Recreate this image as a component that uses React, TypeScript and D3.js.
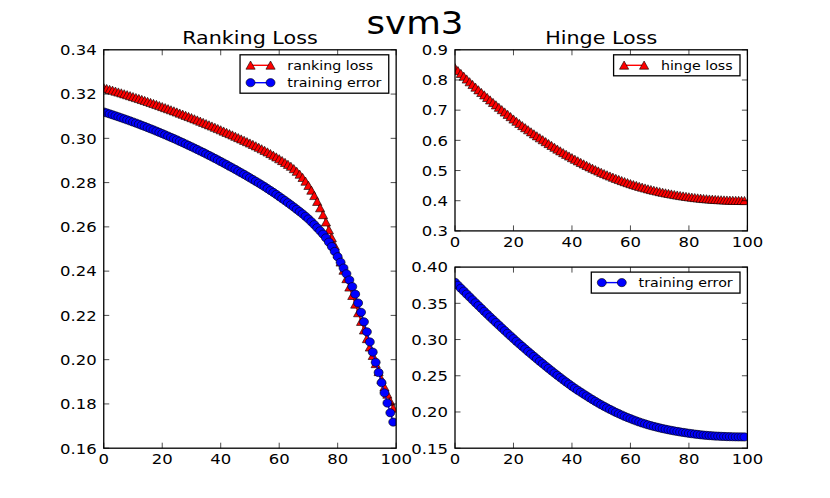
import React, { useRef, useEffect } from 'react';
import * as d3 from 'd3';

// ranking loss panel (left)
const rankingLoss = [
    0.32280, 0.32242, 0.32204, 0.32165, 0.32125, 0.32085, 0.32045, 0.32004, 0.31962, 0.31920,
    0.31878, 0.31835, 0.31792, 0.31748, 0.31703, 0.31659, 0.31613, 0.31567, 0.31521, 0.31474,
    0.31427, 0.31379, 0.31331, 0.31282, 0.31233, 0.31183, 0.31133, 0.31082, 0.31031, 0.30979,
    0.30927, 0.30874, 0.30821, 0.30767, 0.30713, 0.30658, 0.30603, 0.30548, 0.30492, 0.30435,
    0.30378, 0.30320, 0.30262, 0.30204, 0.30145, 0.30085, 0.30025, 0.29964, 0.29903, 0.29842,
    0.29780, 0.29718, 0.29654, 0.29588, 0.29520, 0.29450, 0.29378, 0.29304, 0.29228, 0.29150,
    0.29070, 0.28988, 0.28904, 0.28818, 0.28730, 0.28622, 0.28504, 0.28373, 0.28225, 0.28057,
    0.27866, 0.27650, 0.27409, 0.27144, 0.26856, 0.26546, 0.26215, 0.25864, 0.25504, 0.25144,
    0.24774, 0.24404, 0.24034, 0.23654, 0.23274, 0.22894, 0.22504, 0.22114, 0.21724, 0.21334,
    0.20944, 0.20564, 0.20184, 0.19814, 0.19454, 0.19104, 0.18764, 0.18434, 0.18114, 0.17804
];

const rankTrainingError = [
    0.31190, 0.31148, 0.31105, 0.31062, 0.31018, 0.30973, 0.30927, 0.30881, 0.30834, 0.30786,
    0.30738, 0.30689, 0.30639, 0.30588, 0.30537, 0.30485, 0.30432, 0.30379, 0.30325, 0.30270,
    0.30214, 0.30158, 0.30101, 0.30043, 0.29985, 0.29926, 0.29866, 0.29805, 0.29744, 0.29682,
    0.29619, 0.29556, 0.29492, 0.29427, 0.29362, 0.29295, 0.29228, 0.29161, 0.29092, 0.29023,
    0.28953, 0.28883, 0.28811, 0.28739, 0.28667, 0.28593, 0.28519, 0.28445, 0.28369, 0.28292,
    0.28215, 0.28138, 0.28059, 0.27979, 0.27897, 0.27814, 0.27729, 0.27642, 0.27554, 0.27464,
    0.27373, 0.27280, 0.27186, 0.27090, 0.26992, 0.26893, 0.26792, 0.26690, 0.26585, 0.26475,
    0.26357, 0.26232, 0.26100, 0.25960, 0.25820, 0.25670, 0.25500, 0.25310, 0.25110, 0.24890,
    0.24650, 0.24400, 0.24140, 0.23880, 0.23600, 0.23300, 0.22960, 0.22560, 0.22140, 0.21710,
    0.21260, 0.20800, 0.20340, 0.19880, 0.19420, 0.18960, 0.18500, 0.18040, 0.17600, 0.17180
];

// hinge loss panel (top right)
const hingeLoss = [
    0.8400, 0.8305, 0.8211, 0.8118, 0.8026, 0.7935, 0.7845, 0.7756, 0.7668, 0.7581,
    0.7500, 0.7416, 0.7333, 0.7251, 0.7170, 0.7090, 0.7011, 0.6933, 0.6856, 0.6780,
    0.6700, 0.6627, 0.6555, 0.6484, 0.6414, 0.6345, 0.6277, 0.6210, 0.6144, 0.6079,
    0.6015, 0.5951, 0.5888, 0.5826, 0.5765, 0.5705, 0.5646, 0.5588, 0.5531, 0.5475,
    0.5420, 0.5367, 0.5315, 0.5264, 0.5214, 0.5165, 0.5117, 0.5070, 0.5024, 0.4979,
    0.4935, 0.4893, 0.4852, 0.4812, 0.4773, 0.4735, 0.4698, 0.4662, 0.4627, 0.4593,
    0.4560, 0.4529, 0.4499, 0.4470, 0.4442, 0.4415, 0.4389, 0.4364, 0.4340, 0.4317,
    0.4295, 0.4274, 0.4254, 0.4235, 0.4217, 0.4199, 0.4182, 0.4166, 0.4151, 0.4137,
    0.4123, 0.4110, 0.4098, 0.4087, 0.4077, 0.4067, 0.4058, 0.4050, 0.4043, 0.4036,
    0.4030, 0.4025, 0.4020, 0.4016, 0.4012, 0.4009, 0.4006, 0.4004, 0.4002, 0.4000
];

// training error panel (bottom right)
const trainingError = [
    0.3790, 0.3749, 0.3708, 0.3668, 0.3628, 0.3588, 0.3548, 0.3508, 0.3469, 0.3430,
    0.3390, 0.3351, 0.3312, 0.3274, 0.3236, 0.3198, 0.3160, 0.3123, 0.3086, 0.3049,
    0.3012, 0.2976, 0.2940, 0.2905, 0.2870, 0.2835, 0.2801, 0.2767, 0.2733, 0.2700,
    0.2667, 0.2634, 0.2601, 0.2569, 0.2537, 0.2506, 0.2475, 0.2444, 0.2414, 0.2384,
    0.2355, 0.2327, 0.2300, 0.2273, 0.2247, 0.2221, 0.2196, 0.2171, 0.2147, 0.2123,
    0.2100, 0.2078, 0.2056, 0.2035, 0.2015, 0.1995, 0.1976, 0.1958, 0.1940, 0.1923,
    0.1907, 0.1891, 0.1876, 0.1862, 0.1848, 0.1835, 0.1823, 0.1811, 0.1800, 0.1790,
    0.1780, 0.1771, 0.1762, 0.1754, 0.1746, 0.1738, 0.1731, 0.1724, 0.1718, 0.1712,
    0.1706, 0.1700, 0.1695, 0.1690, 0.1685, 0.1681, 0.1677, 0.1674, 0.1671, 0.1668,
    0.1666, 0.1664, 0.1662, 0.1660, 0.1659, 0.1658, 0.1657, 0.1656, 0.1656, 0.1655
];

const xTicks = [0, 20, 40, 60, 80, 100];
const rankTicks = [0.16, 0.18, 0.20, 0.22, 0.24, 0.26, 0.28, 0.30, 0.32, 0.34];
const hingeTicks = [0.3, 0.4, 0.5, 0.6, 0.7, 0.8, 0.9];
const errorTicks = [0.15, 0.20, 0.25, 0.30, 0.35, 0.40];

const FONT = '"DejaVu Sans", sans-serif';
const SX = 1.13; // text looks horizontally stretched in the original

interface Series {
    label: string;
    values: number[];
    color: string;
    marker: 'triangle' | 'circle';
}

interface Panel {
    id: string;
    left: number;
    top: number;
    width: number;
    height: number;
    yDomain: [number, number];
    yTicks: number[];
    yFormat: string;
    title: string | null;
    series: Series[];
}

const panels: Panel[] = [
    {
        id: 'rank', left: 103.75, top: 49.8, width: 292.4, height: 398.4,
        yDomain: [0.16, 0.34], yTicks: rankTicks, yFormat: '.2f', title: 'Ranking Loss',
        series: [
            { label: 'ranking loss', values: rankingLoss, color: '#ff0000', marker: 'triangle' },
            { label: 'training error', values: rankTrainingError, color: '#0000ff', marker: 'circle' }
        ]
    },
    {
        id: 'hinge', left: 455, top: 49.8, width: 292.4, height: 181.1,
        yDomain: [0.3, 0.9], yTicks: hingeTicks, yFormat: '.1f', title: 'Hinge Loss',
        series: [
            { label: 'hinge loss', values: hingeLoss, color: '#ff0000', marker: 'triangle' }
        ]
    },
    {
        id: 'err', left: 455, top: 267.1, width: 292.4, height: 181.1,
        yDomain: [0.15, 0.40], yTicks: errorTicks, yFormat: '.2f', title: null,
        series: [
            { label: 'training error', values: trainingError, color: '#0000ff', marker: 'circle' }
        ]
    }
];

type G = d3.Selection<SVGGElement, unknown, null, undefined>;

function addText(parent: G, x: number, y: number, str: string, size: number, anchor: string) {
    return parent.append('text')
        .attr('transform', `translate(${x},${y}) scale(${SX},1)`)
        .attr('text-anchor', anchor)
        .attr('font-family', FONT)
        .attr('font-size', size)
        .attr('fill', '#000')
        .text(str);
}

function drawMarker(parent: G, kind: 'triangle' | 'circle', cx: number, cy: number, color: string) {
    if (kind === 'triangle') {
        parent.append('path')
            .attr('d', `M${cx},${cy - 4.3} L${cx + 4.6},${cy + 3.9} L${cx - 4.6},${cy + 3.9} Z`)
            .attr('fill', color)
            .attr('stroke', '#000')
            .attr('stroke-width', 0.6);
    } else {
        parent.append('ellipse')
            .attr('cx', cx).attr('cy', cy)
            .attr('rx', 4.5).attr('ry', 4.1)
            .attr('fill', color)
            .attr('stroke', '#000')
            .attr('stroke-width', 0.6);
    }
}

function drawPanel(root: G, p: Panel) {
    const x = d3.scaleLinear().domain([0, 100]).range([p.left, p.left + p.width]);
    const y = d3.scaleLinear().domain(p.yDomain).range([p.top + p.height, p.top]);

    root.append('clipPath').attr('id', `clip-${p.id}`)
        .append('rect')
        .attr('x', p.left).attr('y', p.top)
        .attr('width', p.width).attr('height', p.height);

    const plot = root.append('g').attr('clip-path', `url(#clip-${p.id})`);

    const line = d3.line<number>()
        .x((_, i) => x(i))
        .y(d => y(d));

    p.series.forEach(s => {
        plot.append('path')
            .datum(s.values)
            .attr('d', line)
            .attr('fill', 'none')
            .attr('stroke', s.color)
            .attr('stroke-width', 1.4);
        s.values.forEach((v, i) => drawMarker(plot, s.marker, x(i), y(v), s.color));
    });

    // frame
    root.append('rect')
        .attr('x', p.left).attr('y', p.top)
        .attr('width', p.width).attr('height', p.height)
        .attr('fill', 'none')
        .attr('stroke', '#000')
        .attr('stroke-width', 1.3);

    const tickLen = 5.5;
    const axisG = root.append('g');
    xTicks.forEach(t => {
        const px = x(t);
        axisG.append('line').attr('x1', px).attr('x2', px)
            .attr('y1', p.top + p.height).attr('y2', p.top + p.height - tickLen)
            .attr('stroke', '#000').attr('stroke-width', 0.7);
        axisG.append('line').attr('x1', px).attr('x2', px)
            .attr('y1', p.top).attr('y2', p.top + tickLen)
            .attr('stroke', '#000').attr('stroke-width', 0.7);
        addText(axisG, px, p.top + p.height + 16, String(t), 14.6, 'middle');
    });
    const fmt = d3.format(p.yFormat);
    p.yTicks.forEach(t => {
        const py = y(t);
        axisG.append('line').attr('x1', p.left).attr('x2', p.left + tickLen)
            .attr('y1', py).attr('y2', py)
            .attr('stroke', '#000').attr('stroke-width', 0.7);
        axisG.append('line').attr('x1', p.left + p.width).attr('x2', p.left + p.width - tickLen)
            .attr('y1', py).attr('y2', py)
            .attr('stroke', '#000').attr('stroke-width', 0.7);
        addText(axisG, p.left - 7, py + 5.3, fmt(t), 14.6, 'end');
    });

    if (p.title) {
        addText(axisG, p.left + p.width / 2, p.top - 6, p.title, 18.3, 'middle');
    }

    // legend, upper right
    const leg = root.append('g');
    const rowGap = 17.4;
    const padV = 10.5;
    const boxRight = p.left + p.width - 7.4;
    const boxTop = p.top + 5;
    const boxH = padV * 2 + rowGap * (p.series.length - 1);
    const frame = leg.append('rect');
    let maxW = 0;
    const items = leg.append('g');
    const texts = p.series.map((s, i) => {
        const t = addText(items, 0, boxTop + padV + i * rowGap + 4.6, s.label, 12.6, 'start');
        const w = (t.node() as SVGTextElement).getComputedTextLength() * SX;
        maxW = Math.max(maxW, w);
        return t;
    });
    const boxW = 47.3 + maxW + 7.3;
    const boxLeft = boxRight - boxW;
    frame.attr('x', boxLeft).attr('y', boxTop)
        .attr('width', boxW).attr('height', boxH)
        .attr('fill', '#fff')
        .attr('stroke', '#000')
        .attr('stroke-width', 1.3);
    p.series.forEach((s, i) => {
        const cy = boxTop + padV + i * rowGap;
        texts[i].attr('transform', `translate(${boxLeft + 47.3},${cy + 4.6}) scale(${SX},1)`);
        items.append('line')
            .attr('x1', boxLeft + 10.5).attr('x2', boxLeft + 30.5)
            .attr('y1', cy).attr('y2', cy)
            .attr('stroke', s.color).attr('stroke-width', 1.4);
        drawMarker(items, s.marker, boxLeft + 10.5, cy, s.color);
        drawMarker(items, s.marker, boxLeft + 30.5, cy, s.color);
    });
}

const App: React.FC = () => {
    const svgRef = useRef<SVGSVGElement | null>(null);

    useEffect(() => {
        document.body.style.margin = '0';
        const svg = d3.select(svgRef.current);
        svg.selectAll('*').remove();
        const root = svg.append('g') as unknown as G;

        root.append('rect').attr('width', 830).attr('height', 498).attr('fill', '#fff');

        panels.forEach(p => drawPanel(root, p));

        addText(root, 415, 34, 'svm3', 31.5, 'middle');
    }, []);

    return (
        <svg ref={svgRef} width={830} height={498} style={{ display: 'block' }}></svg>
    );
};

export default App;
